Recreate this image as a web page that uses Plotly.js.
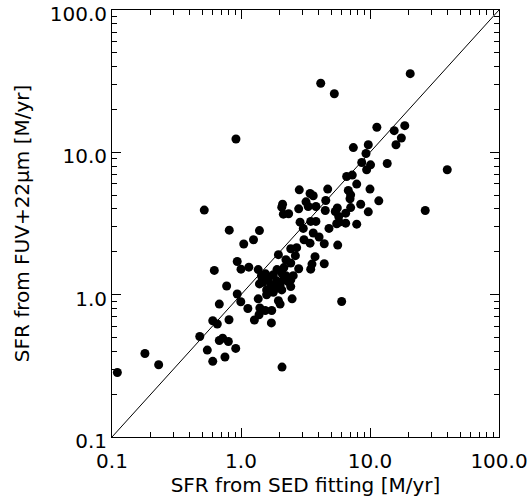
<!DOCTYPE html>
<html>
<head>
<meta charset="utf-8">
<script src="https://cdn.plot.ly/plotly-3.0.1.min.js"></script>
<style>html,body{margin:0;padding:0;background:#fff;}#chart{width:529px;height:497px;}</style>
</head>
<body>
<div id="chart"></div>
<script>
// SFR from SED fitting [M/yr]
const sfrSED = [
  4.15, 5.29, 20.5, 0.914, 11.3, 15.4, 18.6, 17.5, 15.9, 7.43,
  9.70, 9.31, 8.63, 10.1, 9.42, 13.6, 39.7, 6.59, 7.29, 7.89,
  6.79, 7.08, 10.0, 2.83, 3.43, 3.63, 4.70, 4.54, 2.10, 2.07,
  3.19, 3.32, 3.81, 7.00, 8.47, 11.7, 2.80, 4.50, 5.58, 5.38,
  6.48, 7.08, 9.70, 2.13, 2.34, 0.519, 26.8, 2.87, 3.47, 3.81,
  5.72, 5.78, 5.52, 6.48, 7.89, 3.04, 4.81, 0.811, 1.39, 1.25,
  1.05, 3.08, 3.43, 3.63, 4.03, 4.42, 5.62, 2.43, 2.70, 1.95,
  2.64, 3.75, 2.23, 0.935, 2.43, 3.55, 4.42, 1.15, 1.00, 1.36,
  0.621, 2.80, 3.47, 1.55, 1.78, 2.07, 2.54, 1.63, 1.89, 2.13,
  2.43, 1.70, 2.01, 2.33, 1.39, 2.43, 0.774, 1.58, 1.83, 2.07,
  0.935, 1.36, 1.95, 2.49, 6.03, 0.996, 0.679, 1.13, 1.58, 1.78,
  2.01, 1.40, 1.54, 1.73, 1.38, 1.27, 1.72, 0.604, 0.655, 0.807,
  0.479, 0.679, 0.721, 0.798, 0.910, 0.548, 0.604, 0.751, 0.180, 0.230,
  0.110, 2.08, 1.44, 2.15, 1.48, 1.46, 2.23, 1.90
];
// SFR from FUV+22um [M/yr]
const sfrFUV = [
  30.6, 25.8, 35.7, 12.4, 15.0, 14.2, 15.4, 12.6, 11.3, 10.8,
  11.3, 9.81, 8.48, 8.17, 7.54, 8.34, 7.54, 6.76, 6.92, 5.98,
  5.40, 5.03, 5.52, 5.45, 5.14, 4.95, 5.52, 4.59, 4.32, 4.12,
  4.49, 4.16, 4.16, 4.72, 4.32, 4.56, 4.01, 3.90, 4.06, 3.84,
  3.74, 4.09, 3.82, 3.68, 3.70, 3.93, 3.90, 3.23, 3.27, 3.27,
  3.54, 3.23, 3.15, 3.18, 3.13, 2.92, 2.92, 2.84, 2.82, 2.43,
  2.27, 2.43, 2.30, 2.71, 2.54, 2.28, 2.23, 2.10, 2.14, 1.91,
  1.88, 1.85, 1.76, 1.71, 1.67, 1.64, 1.65, 1.56, 1.51, 1.50,
  1.48, 1.52, 1.51, 1.40, 1.38, 1.42, 1.36, 1.29, 1.25, 1.27,
  1.27, 1.17, 1.17, 1.23, 1.19, 1.14, 1.15, 1.08, 1.11, 1.08,
  1.01, 0.935, 0.906, 0.935, 0.895, 0.891, 0.859, 0.800, 0.998, 1.04,
  0.859, 0.806, 0.774, 0.774, 0.723, 0.664, 0.633, 0.656, 0.622, 0.667,
  0.508, 0.476, 0.495, 0.469, 0.419, 0.408, 0.340, 0.365, 0.386, 0.322,
  0.284, 0.310, 1.36, 1.55, 1.22, 1.29, 1.36, 1.50
];
const oneToOne = [0.1, 100];
const tickValues = [0.1, 1, 10, 100];
const tickLabels = ["0.1", "1.0", "10.0", "100.0"];
const minorValues = [];
[0.1, 1, 10].forEach(d => { for (let k = 2; k <= 9; k++) minorValues.push(+(d * k).toPrecision(3)); });

const font = {family: "DejaVu Sans, sans-serif", size: 20, color: "#000"};
const axisBase = {
  type: "log", range: [-1, 2], showgrid: false, zeroline: false,
  showline: true, linecolor: "#000", linewidth: 1, mirror: "ticks",
  ticks: "inside", ticklen: 9, tickwidth: 1, tickcolor: "#000",
  tickmode: "array", tickvals: tickValues, ticktext: tickLabels,
  tickfont: font, ticklabeloverflow: "allow",
  minor: {ticks: "inside", ticklen: 5, tickwidth: 1, tickcolor: "#000", tickmode: "array", tickvals: minorValues, showgrid: false}
};

const data = [
  {x: oneToOne, y: oneToOne, mode: "lines", line: {color: "#000", width: 1}, hoverinfo: "skip", showlegend: false},
  {x: sfrSED, y: sfrFUV, mode: "markers", marker: {color: "#000", size: 9, line: {width: 0}}, showlegend: false}
];
const layout = {
  width: 529, height: 497,
  margin: {l: 112, r: 30, t: 10, b: 60},
  paper_bgcolor: "#fff", plot_bgcolor: "#fff",
  font: font,
  showlegend: false,
  xaxis: Object.assign({}, axisBase, {ticklabelstandoff: 6, title: {text: "SFR from SED fitting [M/yr]", font: font, standoff: 0}}),
  yaxis: Object.assign({}, axisBase, {ticklabelshift: 4, title: {text: "SFR from FUV+22\u03bcm [M/yr]", font: font, standoff: 14}})
};
Plotly.newPlot("chart", data, layout, {displayModeBar: false, staticPlot: true});
</script>
</body>
</html>
